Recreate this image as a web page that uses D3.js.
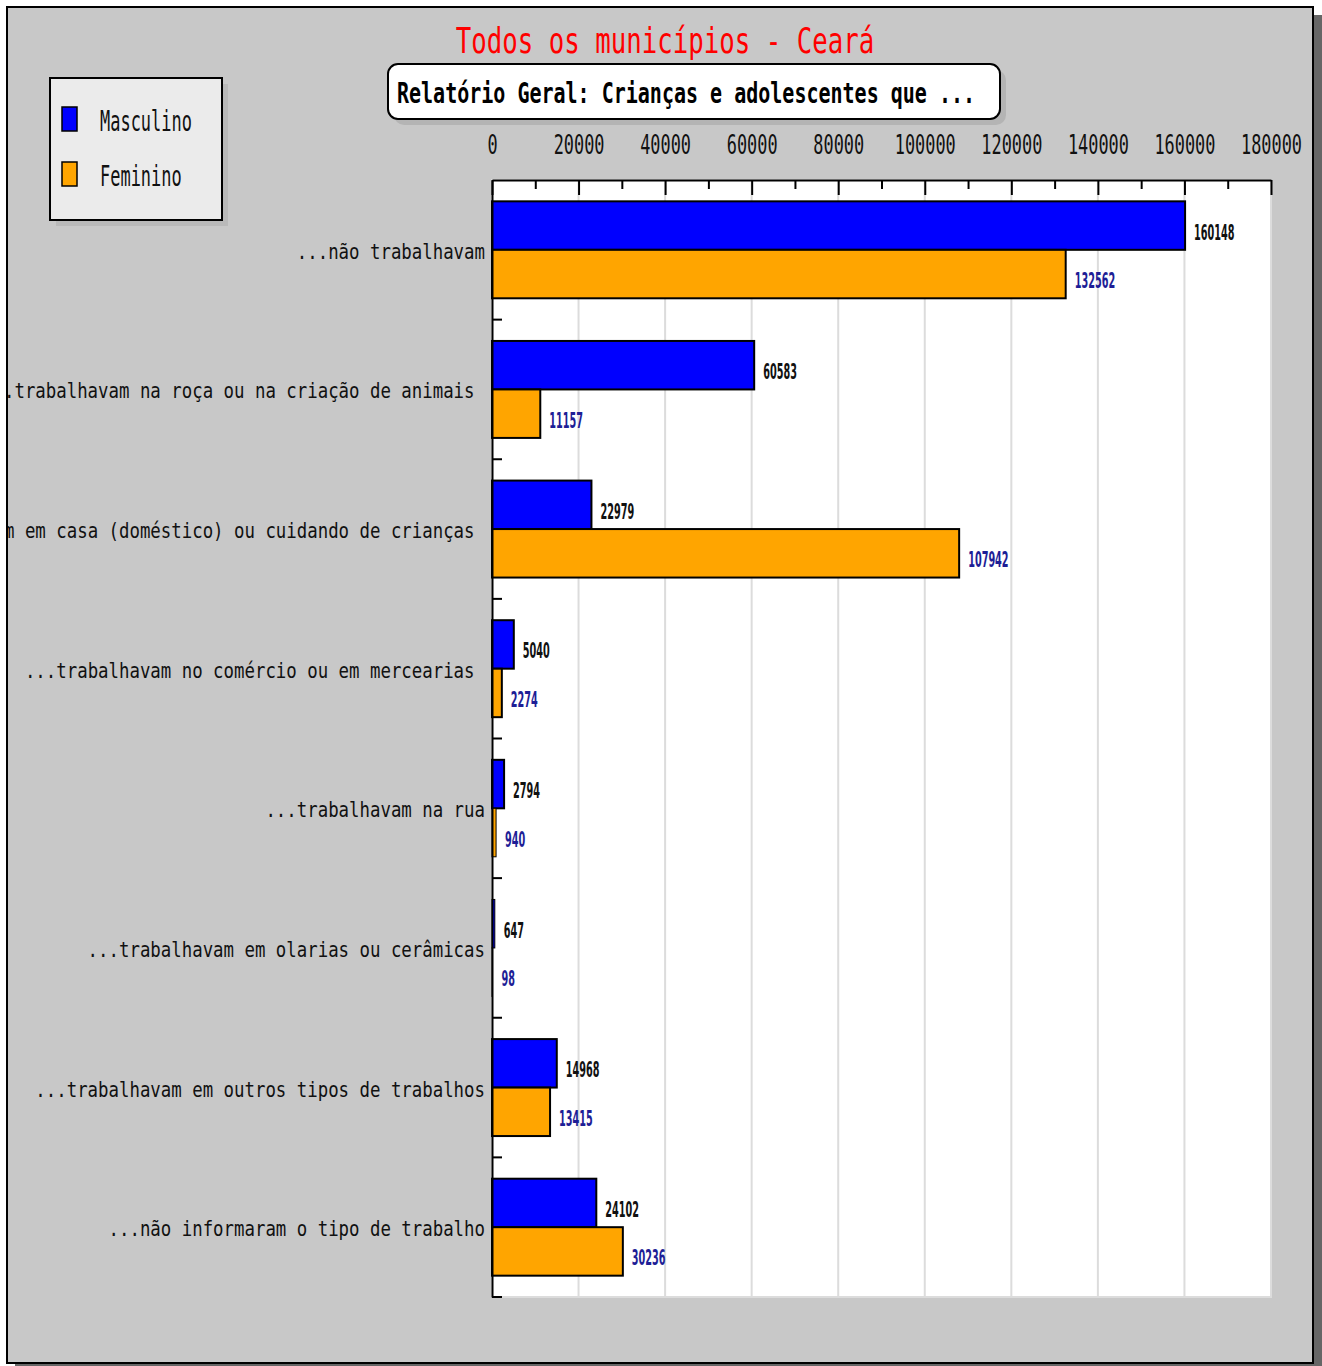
<!DOCTYPE html>
<html>
<head>
<meta charset="utf-8">
<script src="https://cdn.jsdelivr.net/npm/d3@7"></script>
<style>
    body { margin: 0; background: #fff; }
    #chart { width: 1322px; height: 1366px; }
    .mono { font-family: "DejaVu Sans Mono", monospace; }
    .val { font-family: "DejaVu Sans Condensed", "DejaVu Sans", sans-serif; font-weight: bold; }
</style>
</head>
<body>
<div id="chart"></div>
<script>
// chart data
const categories = [
    "...não trabalhavam",
    "...trabalhavam na roça ou na criação de animais\u00a0",
    "...trabalhavam em casa (doméstico) ou cuidando de crianças\u00a0",
    "...trabalhavam no comércio ou em mercearias\u00a0",
    "...trabalhavam na rua",
    "...trabalhavam em olarias ou cerâmicas",
    "...trabalhavam em outros tipos de trabalhos",
    "...não informaram o tipo de trabalho"
];
const seriesNames = ["Masculino", "Feminino"];
const masculino = [160148, 60583, 22979, 5040, 2794, 647, 14968, 24102];
const feminino = [132562, 11157, 107942, 2274, 940, 98, 13415, 30236];
const xTicks = [0, 20000, 40000, 60000, 80000, 100000, 120000, 140000, 160000, 180000];
const xMinorTicks = [10000, 30000, 50000, 70000, 90000, 110000, 130000, 150000, 170000];
const titleText = "Todos os municípios - Ceará";
const subtitleText = "Relatório Geral: Crianças e adolescentes que ...";

const colors = { "Masculino": "#0000ff", "Feminino": "#ffa500" };
const valueColors = { "Masculino": "#111111", "Feminino": "#1e1e96" };

const width = 1322;
const height = 1366;
const plot = { left: 492, right: 1271, top: 180, bottom: 1297 };

/*
    Draws the whole chart
*/
function renderChart() {
    const svg = d3.select("#chart").append("svg")
        .attr("width", width)
        .attr("height", height);

    // frame with its dark shadow
    svg.append("rect").attr("x", 15).attr("y", 15).attr("width", 1307).attr("height", 1351).attr("fill", "#666");
    svg.append("rect").attr("x", 7).attr("y", 7).attr("width", 1306).attr("height", 1356)
        .attr("fill", "#c8c8c8").attr("stroke", "#000").attr("stroke-width", 2);

    const x = d3.scaleLinear().domain([0, 180000]).range([plot.left, plot.right]);
    const y = d3.scaleBand().domain(categories).range([plot.top, plot.bottom]);
    const y1 = d3.scaleBand().domain(seriesNames).range([0, y.bandwidth()]).paddingOuter(0.44);

    // plot background + grid
    svg.append("rect")
        .attr("x", plot.left).attr("y", plot.top)
        .attr("width", plot.right - plot.left).attr("height", plot.bottom - plot.top)
        .attr("fill", "#fff").attr("stroke", "#dcdcdc").attr("stroke-width", 2);

    svg.append("g").selectAll("line")
        .data(xTicks.slice(1))
        .enter().append("line")
        .attr("x1", d => x(d)).attr("x2", d => x(d))
        .attr("y1", plot.top).attr("y2", plot.bottom)
        .attr("stroke", "#dcdcdc").attr("stroke-width", 2);

    // bars
    const rows = categories.map((c, i) => ({ cat: c, values: [
        { name: "Masculino", value: masculino[i] },
        { name: "Feminino", value: feminino[i] }
    ]}));

    const group = svg.append("g").selectAll("g")
        .data(rows)
        .enter().append("g")
        .attr("transform", d => `translate(0,${y(d.cat)})`);

    group.selectAll("rect")
        .data(d => d.values)
        .enter().append("rect")
        .attr("x", x(0))
        .attr("y", d => y1(d.name))
        .attr("width", d => x(d.value) - x(0))
        .attr("height", y1.bandwidth())
        .attr("fill", d => colors[d.name])
        .attr("stroke", "#000")
        .attr("stroke-width", d => (x(d.value) - x(0)) < 6 ? 1 : 2);

    // value labels next to each bar
    group.selectAll("text")
        .data(d => d.values)
        .enter().append("text")
        .attr("class", "val")
        .attr("transform", d => `translate(${x(d.value) + 9},${y1(d.name) + y1.bandwidth() / 2 + 14}) scale(0.49,1)`)
        .attr("font-size", 22)
        .attr("fill", d => valueColors[d.name])
        .text(d => d.value);

    // top axis: ticks pointing down into the plot
    svg.append("g")
        .attr("transform", `translate(0,${plot.top})`)
        .call(d3.axisBottom(x).tickValues(xMinorTicks).tickSize(9).tickFormat(""))
        .call(g => g.select(".domain").remove())
        .call(g => g.selectAll("line").attr("stroke", "#000").attr("stroke-width", 2));

    svg.append("g")
        .attr("transform", `translate(0,${plot.top})`)
        .call(d3.axisBottom(x).tickValues(xTicks).tickSize(15).tickSizeOuter(0).tickFormat(""))
        .call(g => g.select(".domain").attr("stroke-width", 2))
        .call(g => g.selectAll("line").attr("stroke", "#000").attr("stroke-width", 2));

    // top tick labels
    svg.append("g")
        .attr("transform", `translate(0,154)`)
        .call(d3.axisTop(x).tickValues(xTicks).tickSize(0).tickPadding(0).tickFormat(d => d))
        .call(g => g.select(".domain").remove())
        .call(g => g.selectAll("text")
            .attr("class", "mono")
            .attr("font-size", 26)
            .attr("fill", "#111")
            .attr("y", 0)
            .attr("dy", 0)
            .attr("transform", "scale(0.65,1)"));

    // left axis with ticks to the right, no labels (drawn separately)
    svg.append("g")
        .attr("transform", `translate(${plot.left},0)`)
        .call(d3.axisRight(y).tickSize(0).tickFormat(""))
        .call(g => g.select(".domain").attr("stroke", "#000").attr("stroke-width", 2));

    svg.append("g").selectAll("line")
        .data(categories)
        .enter().append("line")
        .attr("x1", plot.left).attr("x2", plot.left + 10)
        .attr("y1", d => y(d) + y.step()).attr("y2", d => y(d) + y.step())
        .attr("stroke", "#000").attr("stroke-width", 2);

    // category labels, clipped by the frame
    svg.append("clipPath").attr("id", "frameClip")
        .append("rect").attr("x", 8).attr("y", 8).attr("width", 1304).attr("height", 1354);

    svg.append("g").attr("clip-path", "url(#frameClip)")
        .selectAll("text")
        .data(categories)
        .enter().append("text")
        .attr("class", "mono")
        .attr("font-size", 22)
        .attr("fill", "#111")
        .attr("text-anchor", "end")
        .attr("transform", d => `translate(485,${y(d) + y.bandwidth() / 2 + 9}) scale(0.79,1)`)
        .text(d => d);

    // title
    svg.append("text")
        .attr("class", "mono")
        .attr("font-size", 36)
        .attr("fill", "#ff0000")
        .attr("text-anchor", "middle")
        .attr("transform", "translate(665,53) scale(0.715,1)")
        .text(titleText);

    // subtitle box
    svg.append("rect").attr("x", 394).attr("y", 70).attr("width", 612).attr("height", 55)
        .attr("rx", 10).attr("fill", "#b4b4b4");
    svg.append("rect").attr("x", 388).attr("y", 64).attr("width", 612).attr("height", 55)
        .attr("rx", 10).attr("fill", "#fff").attr("stroke", "#000").attr("stroke-width", 2);
    svg.append("text")
        .attr("class", "mono")
        .attr("font-size", 29)
        .attr("font-weight", "bold")
        .attr("fill", "#000")
        .attr("text-anchor", "middle")
        .attr("transform", "translate(686,103) scale(0.69,1)")
        .text(subtitleText);

    // legend
    svg.append("rect").attr("x", 56).attr("y", 84).attr("width", 172).attr("height", 142).attr("fill", "#b9b9b9");
    svg.append("rect").attr("x", 50).attr("y", 78).attr("width", 172).attr("height", 142)
        .attr("fill", "#ebebeb").attr("stroke", "#000").attr("stroke-width", 2);

    const legend = svg.append("g").selectAll("g")
        .data(seriesNames)
        .enter().append("g")
        .attr("transform", (d, i) => `translate(0,${i * 55})`);

    legend.append("rect")
        .attr("x", 62).attr("y", 107)
        .attr("width", 15).attr("height", 24)
        .attr("fill", d => colors[d])
        .attr("stroke", "#000").attr("stroke-width", 1.5);

    legend.append("text")
        .attr("class", "mono")
        .attr("font-size", 29)
        .attr("fill", "#111")
        .attr("transform", "translate(100,131) scale(0.585,1)")
        .text(d => d);
}

renderChart();
</script>
</body>
</html>
